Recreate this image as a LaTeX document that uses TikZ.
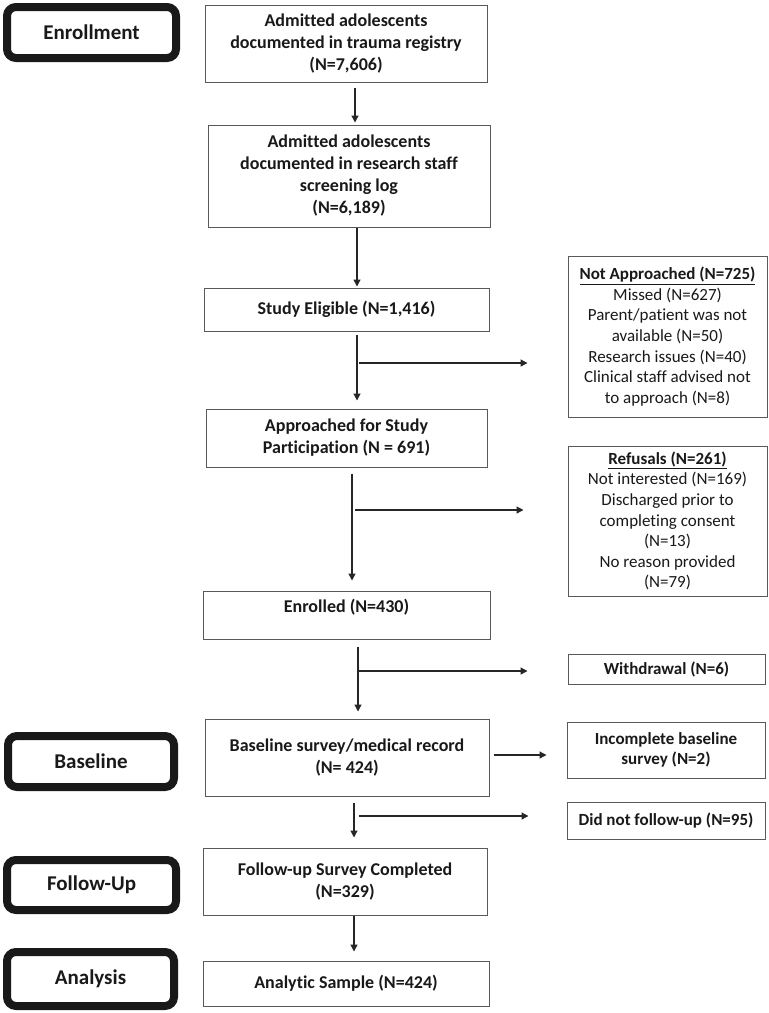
\documentclass[tikz,border=0pt]{standalone}
\usepackage{fontspec}
\setmainfont{Carlito}[Ligatures=NoCommon]
\usetikzlibrary{arrows.meta}
\begin{document}
\begin{tikzpicture}[x=1pt,y=-1pt]
\tikzset{
 box/.style={draw=black!65, line width=1pt, fill=white, inner sep=0pt, align=center, font=\fontsize{18}{22}\selectfont\bfseries, text=black!90},
 sidebox/.style={box, font=\fontsize{17}{20.6}\selectfont},
 sideboxb/.style={box, font=\fontsize{17}{20.6}\selectfont\bfseries},
 stage/.style={draw=black!90, line width=8pt, rounded corners=9pt, inner sep=0pt, font=\fontsize{21}{25}\selectfont\bfseries, text=black!90},
 arr/.style={draw=black!85, line width=1.3pt, -{Triangle[length=7pt,width=7pt]}},
}
\useasboundingbox (0,0) rectangle (769,1013);
\fill[white] (0,0) rectangle (769,1013);

% stage labels
\node[stage, minimum width=169pt, minimum height=51pt] (L1) at (91.5,32.5) {Enrollment};
\node[stage, minimum width=166pt, minimum height=51pt] (L2) at (91,761.5) {Baseline};
\node[stage, minimum width=169pt, minimum height=50pt] (L3) at (91.5,885) {Follow-Up};
\node[stage, minimum width=167pt, minimum height=54pt] (L4) at (90.5,979) {Analysis};

% main column
\node[box, minimum width=282pt, minimum height=77pt] (A) at (346,43.5) {Admitted adolescents\\documented in trauma registry\\(N=7,606)};
\node[box, minimum width=282pt, minimum height=102pt] (B) at (349,176) {Admitted adolescents\\documented in research staff\\screening log\\(N=6,189)};
\node[box, minimum width=285pt, minimum height=43pt] (SE) at (346.5,309.5) {Study Eligible (N=1,416)};
\node[box, minimum width=281pt, minimum height=58pt] (AP) at (346.5,438) {Approached for Study\\Participation (N = 691)};
\node[box, minimum width=287pt, minimum height=48pt, text depth=18pt] (EN) at (346.5,615) {Enrolled (N=430)};
\node[box, minimum width=284pt, minimum height=77pt] (BL) at (347,757.5) {Baseline survey/medical record\\(N= 424)};
\node[box, minimum width=284pt, minimum height=67pt] (FU) at (345,881.5) {Follow-up Survey Completed\\(N=329)};
\node[box, minimum width=286pt, minimum height=45pt] (AS) at (346,983.5) {Analytic Sample (N=424)};

% side column
\node[sidebox, minimum width=199pt, minimum height=161pt] (NA) at (667.5,336.5) {\textbf{\underline{Not Approached (N=725)}}\\Missed (N=627)\\Parent/patient was not\\available (N=50)\\Research issues (N=40)\\Clinical staff advised not\\to approach (N=8)};
\node[sidebox, minimum width=199pt, minimum height=150pt] (RF) at (667.5,521) {\textbf{\underline{Refusals (N=261)}}\\Not interested (N=169)\\Discharged prior to\\completing consent\\(N=13)\\No reason provided\\(N=79)};
\node[sideboxb, minimum width=197pt, minimum height=30pt] (WD) at (666.5,669) {Withdrawal (N=6)};
\node[sideboxb, minimum width=198pt, minimum height=56pt] (IB) at (666,750) {Incomplete baseline\\survey (N=2)};
\node[sideboxb, minimum width=198pt, minimum height=37pt] (DN) at (666,820.5) {Did not follow-up (N=95)};

% helper coordinates
\coordinate (c1) at (355,0);
\coordinate (c2) at (357,0);
\coordinate (c3) at (352,0);
\coordinate (c4) at (358,0);
\coordinate (c5) at (354,0);
\coordinate (b1) at (359,363);
\coordinate (b2) at (355,510);
\coordinate (b3) at (358,671);
\coordinate (b4) at (0,755);
\coordinate (b5) at (359,816);

% connectors
\draw[arr, shorten <=5pt, shorten >=2pt] (A.south -| c1) -- (B.north -| c1);
\draw[arr, shorten >=1pt] (B.south -| c2) -- (SE.north -| c2);
\draw[arr, shorten <=3pt, shorten >=8pt] (SE.south -| c2) -- (AP.north -| c2);
\draw[arr, shorten >=40pt] (b1) -- (b1 -| NA.west);
\draw[arr, shorten <=6pt, shorten >=10pt] (AP.south -| c3) -- (EN.north -| c3);
\draw[arr, shorten >=44pt] (b2) -- (b2 -| RF.west);
\draw[arr, shorten <=7pt, shorten >=7pt] (EN.south -| c4) -- (BL.north -| c4);
\draw[arr, shorten >=40pt] (b3) -- (b3 -| WD.west);
\draw[arr, shorten <=4pt, shorten >=20pt] (BL.east |- b4) -- (IB.west |- b4);
\draw[arr, shorten <=6pt, shorten >=10pt] (BL.south -| c5) -- (FU.north -| c5);
\draw[arr, shorten >=38pt] (b5) -- (b5 -| DN.west);
\draw[arr, shorten >=9pt] (FU.south -| c5) -- (AS.north -| c5);
\end{tikzpicture}
\end{document}
